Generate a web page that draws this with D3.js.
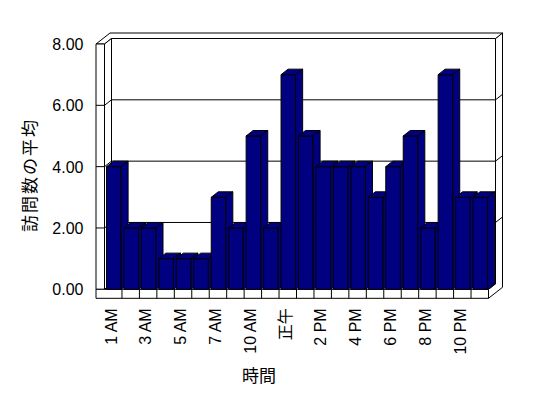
<!DOCTYPE html>
<html>
<head>
<meta charset="utf-8">
<script src="https://cdn.jsdelivr.net/npm/d3@7"></script>
<style>
  html, body { margin: 0; padding: 0; background: #fff; }
  svg { display: block; }
  .tick text { font-family: "Liberation Sans", Arial, "Noto Sans CJK JP", sans-serif; font-size: 16px; fill: #000; }
  .title { font-family: "Noto Sans CJK JP", sans-serif; font-size: 17px; fill: #000; }
</style>
</head>
<body>
<div id="chart"></div>
<script>
// hours (one morning hour has no data)
const categories = ["1 AM", "2 AM", "3 AM", "4 AM", "5 AM", "6 AM", "7 AM", "9 AM", "10 AM", "11 AM", "正午",
  "1 PM", "2 PM", "3 PM", "4 PM", "5 PM", "6 PM", "7 PM", "8 PM", "9 PM", "10 PM", "11 PM"];
const visits = [4, 2, 2, 1, 1, 1, 3, 2, 5, 2, 7, 5, 4, 4, 4, 3, 4, 5, 2, 7, 3, 3];
const yTicks = [0, 2, 4, 6, 8];
const yTitle = "訪問数の平均";
const xTitle = "時間";

const width = 548, height = 398;

const svg = d3.select("#chart").append("svg")
  .attr("width", width)
  .attr("height", height);

// front plane scales
const x = d3.scaleBand().domain(categories).range([104.5, 488.5]);
const y = d3.scaleLinear().domain([0, 8]).range([289.3, 44]);

// depth: 0 = front, 1 = back wall face, 2 = back of wall
const depthX = d3.scaleLinear().domain([0, 2]).range([0, 14]);
const depthY = d3.scaleLinear().domain([0, 2]).range([0, -11]);
const proj = (fx, fy, d) => [fx + depthX(d), fy + depthY(d)];

const X0 = 96, X1 = x.range()[0], X2 = x.range()[1];
const Ytop = y(8), Y0 = y(0), Ybot = Y0 + 9;

function face(pts, fill) {
  svg.append("polygon")
    .attr("points", pts.map(p => proj(...p).join(",")).join(" "))
    .attr("fill", fill)
    .attr("stroke", "#000")
    .attr("stroke-width", 1)
    .attr("stroke-linejoin", "miter");
}
function seg(a, b) {
  const p = proj(...a), q = proj(...b);
  svg.append("line")
    .attr("x1", p[0]).attr("y1", p[1])
    .attr("x2", q[0]).attr("y2", q[1])
    .attr("stroke", "#000");
}

// walls and floor
face([[X1, Ytop, 1], [X2, Ytop, 1], [X2, Y0, 1], [X1, Y0, 1]], "#fff");
face([[X2, Ytop, 1], [X2, Ytop, 2], [X2, Ybot, 2], [X2, Ybot, 0], [X2, Y0, 0], [X2, Y0, 1]], "#fff");
face([[X0, Ytop, 0], [X1, Ytop, 0], [X1, Ytop, 1], [X2, Ytop, 1], [X2, Ytop, 2], [X0, Ytop, 2]], "#fff");
face([[X1, Ytop, 0], [X1, Ytop, 1], [X1, Y0, 1], [X1, Y0, 0]], "#fff");
face([[X0, Ytop, 0], [X1, Ytop, 0], [X1, Y0, 0], [X0, Y0, 0]], "#fff");
face([[X1, Y0, 0], [X2, Y0, 0], [X2, Y0, 1], [X1, Y0, 1]], "#fff");
face([[X0, Y0, 0], [X2, Y0, 0], [X2, Ybot, 0], [X0, Ybot, 0]], "#fff");

// gridlines
yTicks.filter(v => v > 0 && v < 8).forEach(v => {
  const gy = y(v);
  seg([X0, gy, 0], [X1, gy, 0]);
  seg([X1, gy, 0], [X1, gy, 1]);
  seg([X1, gy, 1], [X2, gy, 1]);
  seg([X2, gy, 1], [X2, gy, 2]);
});

// category ticks on floor edge
categories.slice(1).forEach(c => seg([x(c), Y0, 0], [x(c), Ybot, 0]));

// bars
const barOff = 2, barW = 14.6, barColor = "#000080";
categories.forEach((c, i) => {
  const l = x(c) + barOff, r = l + barW, t = y(visits[i]);
  face([[l, t, 0], [r, t, 0], [r, Y0, 0], [l, Y0, 0]], barColor);
  face([[l, t, 0], [r, t, 0], [r, t, 1], [l, t, 1]], barColor);
  face([[r, t, 0], [r, t, 1], [r, Y0, 1], [r, Y0, 0]], barColor);
});

// y axis labels
svg.append("g")
  .attr("transform", `translate(${X0},0)`)
  .call(d3.axisLeft(y).tickValues(yTicks).tickFormat(d3.format(".2f")).tickSize(0).tickPadding(12.5))
  .call(g => g.select(".domain").remove())
  .selectAll("text").attr("dy", "0.35em");

// x axis labels (every other hour)
svg.append("g")
  .attr("transform", `translate(-2.3,${Ybot})`)
  .call(d3.axisBottom(x).tickValues(categories.filter((c, i) => i % 2 === 0)).tickSize(0))
  .call(g => g.select(".domain").remove())
  .selectAll("text")
  .attr("transform", "rotate(-90)")
  .attr("x", -10)
  .attr("y", 0)
  .attr("dy", "0.35em")
  .attr("text-anchor", "end");

// titles
svg.append("text")
  .attr("class", "title")
  .attr("transform", "translate(30,175) rotate(-90)")
  .attr("text-anchor", "middle")
  .attr("dy", "0.35em")
  .style("letter-spacing", "2px")
  .text(yTitle);

svg.append("text")
  .attr("class", "title")
  .attr("x", 259)
  .attr("y", 376)
  .attr("text-anchor", "middle")
  .attr("dy", "0.35em")
  .text(xTitle);
</script>
</body>
</html>
